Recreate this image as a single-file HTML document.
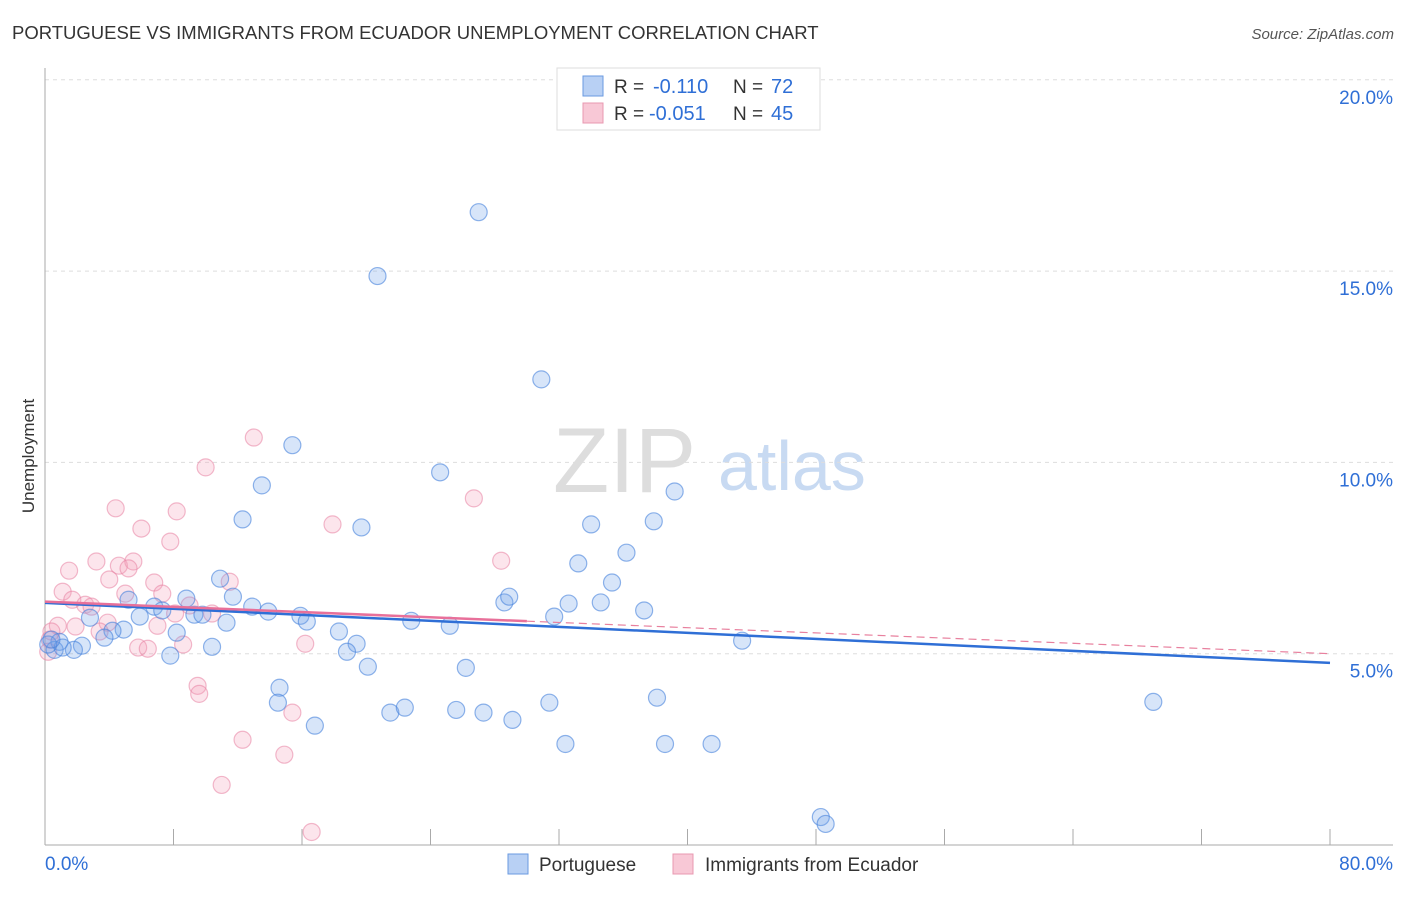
<!DOCTYPE html>
<html><head><meta charset="utf-8"><style>
body{margin:0;background:#fff;font-family:"Liberation Sans",sans-serif}
svg text{font-family:"Liberation Sans",sans-serif}
</style></head><body>
<svg width="1406" height="892" id="chart">
<text x="12" y="39" font-size="18.5" fill="#333">PORTUGUESE VS IMMIGRANTS FROM ECUADOR UNEMPLOYMENT CORRELATION CHART</text>
<text x="1394" y="39" font-size="15" fill="#555" font-style="italic" text-anchor="end">Source: ZipAtlas.com</text>
<text x="34" y="456" font-size="17" fill="#333" transform="rotate(-90 34 456)" text-anchor="middle">Unemployment</text>
<g><text x="553" y="492" font-size="92" fill="#ddd" font-family="Liberation Serif">ZIP</text><text x="718" y="490" font-size="70" fill="#c8daf2">atlas</text></g>
<g id="grid"></g><g id="pts"></g><g id="trend"></g>
<g>
<rect x="557" y="68" width="263" height="62" fill="#fff" stroke="#ddd"/>
<rect x="583" y="76" width="20" height="20" fill="#b8d0f4" stroke="#6a9ae0"/>
<rect x="583" y="103" width="20" height="20" fill="#f8c8d6" stroke="#e898b0"/>
<text x="614" y="93" font-size="19" fill="#333">R =</text><text x="653" y="93" font-size="20" fill="#2f6fd6">-0.110</text>
<text x="733" y="93" font-size="19" fill="#333">N =</text><text x="771" y="93" font-size="20" fill="#2f6fd6">72</text>
<text x="614" y="120" font-size="19" fill="#333">R =</text><text x="649" y="120" font-size="20" fill="#2f6fd6">-0.051</text>
<text x="733" y="120" font-size="19" fill="#333">N =</text><text x="771" y="120" font-size="20" fill="#2f6fd6">45</text>
</g>
<g>
<rect x="508" y="854" width="20" height="20" fill="#b8d0f4" stroke="#6a9ae0"/>
<text x="539" y="871" font-size="19" fill="#333">Portuguese</text>
<rect x="673" y="854" width="20" height="20" fill="#f8c8d6" stroke="#e898b0"/>
<text x="705" y="871" font-size="19" fill="#333">Immigrants from Ecuador</text>
</g>
</svg>
<script>
const xTicks=[0,8,16,24,32,40,48,56,64,72,80];
const yTicks=[5,10,15,20];
const blueX=[27.0,20.7,30.9,15.4,24.6,13.5,39.2,12.3,19.7,34.0,37.9,36.2,33.2,35.3,10.9,11.7,8.8,6.8,5.2,12.9,13.9,7.3,5.9,9.3,9.8,11.3,15.9,16.3,28.6,28.9,32.6,34.6,37.3,31.7,22.8,25.2,18.3,19.4,18.8,20.1,26.2,43.4,8.2,4.9,4.2,3.7,2.8,2.3,1.8,0.9,0.6,1.1,10.4,7.8,14.6,14.5,16.8,21.5,22.4,25.6,27.3,29.1,31.4,38.1,32.4,38.6,41.5,69.0,48.3,48.6,0.2,0.4];
const blueY=[16.54,14.87,12.17,10.45,9.74,9.40,9.24,8.51,8.30,8.38,8.46,7.64,7.36,6.86,6.96,6.49,6.44,6.23,6.41,6.23,6.10,6.13,5.97,6.02,6.02,5.81,5.99,5.84,6.34,6.49,6.31,6.34,6.13,5.97,5.86,5.73,5.58,5.26,5.05,4.66,4.63,5.34,5.55,5.63,5.60,5.42,5.94,5.21,5.10,5.31,5.10,5.16,5.18,4.95,4.11,3.72,3.12,3.46,3.59,3.53,3.46,3.27,3.72,3.85,2.64,2.64,2.64,3.74,0.73,0.55,5.24,5.37];
const pinkX=[13.0,10.0,26.7,4.4,8.2,17.9,6.0,7.8,28.4,3.2,1.5,4.6,5.5,5.2,4.0,6.8,11.5,1.1,5.0,7.3,1.7,2.5,2.9,9.0,10.4,8.1,3.9,7.0,1.9,0.8,0.4,0.3,3.4,8.6,5.8,6.4,16.2,9.5,9.6,15.4,12.3,14.9,11.0,16.6,0.2];
const pinkY=[10.65,9.87,9.06,8.80,8.72,8.38,8.27,7.93,7.43,7.41,7.17,7.30,7.41,7.23,6.94,6.86,6.88,6.62,6.57,6.57,6.41,6.28,6.23,6.26,6.05,6.05,5.81,5.73,5.71,5.73,5.58,5.37,5.58,5.24,5.16,5.13,5.26,4.16,3.95,3.46,2.75,2.36,1.57,0.34,5.05];
const blueTrend=[6.33,4.76];
const pinkTrend=[6.36,5.0];
const pinkSolidEnd=30;
const NS="http://www.w3.org/2000/svg";
const sx=v=>45+v/80*1285;
const sy=v=>845-v/5*191.3;
function mk(t,a,p){const e=document.createElementNS(NS,t);for(const k in a)e.setAttribute(k,a[k]);p.appendChild(e);return e;}
const grid=document.getElementById('grid');
yTicks.forEach(v=>{
 const l=mk('line',{x1:45,x2:1393,y1:sy(v),y2:sy(v),stroke:'#ddd','stroke-dasharray':'4,4'},grid);
 
 
 const t=mk('text',{x:1393,y:sy(v)+24,'font-size':19,fill:'#2f6fd6','text-anchor':'end'},grid);
 t.textContent=v.toFixed(1)+'%';
 
 
});
mk('line',{x1:45,x2:45,y1:68,y2:845,stroke:'#aaa'},grid);
mk('line',{x1:45,x2:1393,y1:845,y2:845,stroke:'#aaa'},grid);
xTicks.forEach(v=>{
 const l=mk('line',{x1:sx(v),x2:sx(v),y1:829,y2:845,stroke:'#aaa'},grid);
 
 
});
[[0,'start',45],[80,'end',1393]].forEach(([v,a,x])=>{
 const t=mk('text',{x:x,y:870,'font-size':19,fill:'#2f6fd6','text-anchor':a},grid);
 t.textContent=v.toFixed(1)+'%';
 
 
});
const pts=document.getElementById('pts');
pinkX.forEach((x,i)=>{
 const c=mk('circle',{cx:sx(x),cy:sy(pinkY[i]),r:8.5,fill:'rgba(244,160,188,0.28)',stroke:'rgba(232,130,162,0.55)','stroke-width':1.2},pts);
 
 
});
blueX.forEach((x,i)=>{
 const c=mk('circle',{cx:sx(x),cy:sy(blueY[i]),r:8.5,fill:'rgba(110,160,232,0.28)',stroke:'rgba(70,130,220,0.6)','stroke-width':1.2},pts);
 
 
});
const tr=document.getElementById('trend');
const pAt=x=>pinkTrend[0]+(pinkTrend[1]-pinkTrend[0])*x/80;
const pd=mk('line',{x1:sx(pinkSolidEnd),y1:sy(pAt(pinkSolidEnd)),x2:sx(80),y2:sy(pinkTrend[1]),stroke:'#e8809e','stroke-width':1.2,'stroke-dasharray':'8,5'},tr);


const bl=mk('line',{x1:sx(0),y1:sy(blueTrend[0]),x2:sx(80),y2:sy(blueTrend[1]),stroke:'#2f6fd6','stroke-width':2.5},tr);


const ps=mk('line',{x1:sx(0),y1:sy(pinkTrend[0]),x2:sx(pinkSolidEnd),y2:sy(pAt(pinkSolidEnd)),stroke:'#e8709a','stroke-width':2.5},tr);


</script>
</body></html>
